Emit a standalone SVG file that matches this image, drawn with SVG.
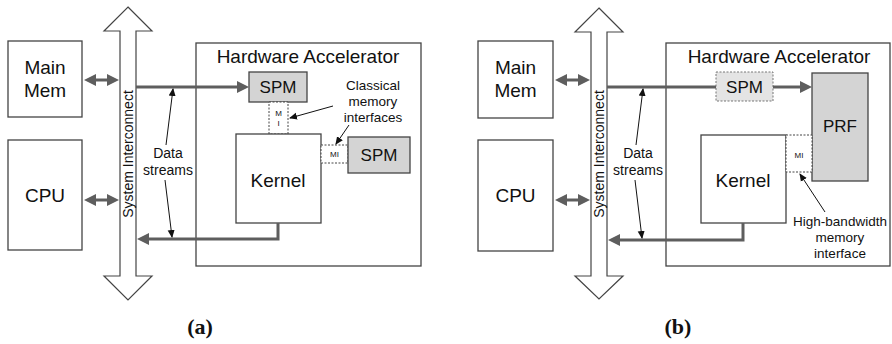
<svg xmlns="http://www.w3.org/2000/svg" width="892" height="344" viewBox="0 0 892 344">
<defs>
<style>
.box{fill:#fff;stroke:#444;stroke-width:1.3}
.gbox{fill:#d4d4d4;stroke:#444;stroke-width:1.3}
.dbox{fill:#fff;stroke:#444;stroke-width:1;stroke-dasharray:2 1.5}
.dgbox{fill:#e4e4e4;stroke:#777;stroke-width:1;stroke-dasharray:2 1.5}
.bus{fill:#fff;stroke:#444;stroke-width:1.2}
.t{font-family:"Liberation Sans",Arial,sans-serif;fill:#111;text-anchor:middle}
.big{font-size:19px}
.mid{font-size:17px}
.sm{font-size:14px}
.xs{font-size:13.5px}
.mi{font-size:8px}
.lab{font-family:"Liberation Serif","Times New Roman",serif;font-weight:bold;font-size:22px;fill:#111;text-anchor:middle}
.thick{fill:none;stroke:#5e5e5e;stroke-width:3}
.thin{fill:none;stroke:#111;stroke-width:1}
</style>
<marker id="ah" viewBox="0 0 12 12" markerWidth="12" markerHeight="12" markerUnits="userSpaceOnUse" refX="4" refY="6" orient="auto-start-reverse"><path d="M0,0 L12,6 L0,12 z" fill="#5e5e5e"/></marker>
<marker id="th" viewBox="0 0 8 8" markerWidth="8" markerHeight="8" markerUnits="userSpaceOnUse" refX="7" refY="4" orient="auto"><path d="M0,0.5 L8,4 L0,7.5 z" fill="#111"/></marker>
</defs>

<!-- Panel (a) -->
<g id="a-mainmem"><rect class="box" x="8" y="41" width="74" height="76"/><text class="t big" x="45" y="74">Main</text><text class="t big" x="45" y="97">Mem</text></g>
<g id="a-cpu"><rect class="box" x="8" y="140" width="74" height="110"/><text class="t big" x="45" y="202">CPU</text></g>
<g id="a-bus"><polygon class="bus" points="128,7 152,31 136,31 136,276 152,276 128,300 104,276 120,276 120,31 104,31"/><text class="t sm" transform="translate(133,154) rotate(-90)">System Interconnect</text></g>
<g id="a-hwacc"><rect class="box" x="196" y="43" width="225" height="223"/><text class="t big" x="308" y="63">Hardware Accelerator</text></g>
<g id="a-spm1"><rect class="gbox" x="249" y="72" width="58" height="30"/><text class="t mid" x="278" y="93">SPM</text></g>
<g id="a-mi1"><rect class="dbox" x="269" y="102" width="19" height="32"/><text class="t mi" x="278.5" y="116">M</text><text class="t mi" x="278.5" y="126">I</text></g>
<g id="a-kernel"><rect class="box" x="236" y="134" width="85" height="89"/><text class="t big" x="278" y="187">Kernel</text></g>
<g id="a-mi2"><rect class="dbox" x="321" y="145" width="27" height="18"/><text class="t mi" x="334.5" y="157">MI</text></g>
<g id="a-spm2"><rect class="gbox" x="348" y="137" width="62" height="36"/><text class="t mid" x="379" y="161">SPM</text></g>
<g id="a-ds"><text class="t sm" x="168" y="158">Data</text><text class="t sm" x="168" y="175">streams</text></g>
<g id="a-cmi"><text class="t xs" x="373" y="90">Classical</text><text class="t xs" x="373" y="106">memory</text><text class="t xs" x="373" y="122">interfaces</text></g>
<text class="lab" x="200" y="334">(a)</text>

<!-- Panel (b) -->
<g id="b-mainmem"><rect class="box" x="478" y="41" width="75" height="77"/><text class="t big" x="515.5" y="74">Main</text><text class="t big" x="515.5" y="97">Mem</text></g>
<g id="b-cpu"><rect class="box" x="478" y="140" width="75" height="111"/><text class="t big" x="515.5" y="202">CPU</text></g>
<g id="b-bus"><polygon class="bus" points="599,8 623,32 607,32 607,276 623,276 599,299 575,276 591,276 591,32 575,32"/><text class="t sm" transform="translate(604,154) rotate(-90)">System Interconnect</text></g>
<g id="b-hwacc"><rect class="box" x="666" y="43" width="224" height="223"/><text class="t big" x="779" y="63">Hardware Accelerator</text></g>
<g id="b-spm"><rect class="dgbox" x="716" y="72" width="57" height="29"/><text class="t mid" x="744.5" y="93">SPM</text></g>
<g id="b-prf"><rect class="gbox" x="812" y="73" width="56" height="108"/><text class="t mid" x="840" y="132">PRF</text></g>
<g id="b-kernel"><rect class="box" x="701" y="135" width="85" height="88"/><text class="t big" x="743" y="187">Kernel</text></g>
<g id="b-mi"><rect class="dbox" x="786" y="135" width="26" height="37"/><text class="t mi" x="799" y="158">MI</text></g>
<g id="b-ds"><text class="t sm" x="638" y="158">Data</text><text class="t sm" x="638" y="175">streams</text></g>
<g id="b-hbmi"><text class="t xs" x="840" y="226">High-bandwidth</text><text class="t xs" x="840" y="242">memory</text><text class="t xs" x="840" y="258">interface</text></g>
<text class="lab" x="678" y="334">(b)</text>

<!-- Connectors -->
<g id="connectors">
<line class="thick" x1="92" y1="80" x2="111" y2="80" marker-start="url(#ah)" marker-end="url(#ah)"/>
<line class="thick" x1="92" y1="200" x2="111" y2="200" marker-start="url(#ah)" marker-end="url(#ah)"/>
<line class="thick" x1="136" y1="87" x2="241" y2="87" marker-end="url(#ah)"/>
<polyline class="thick" points="278,223 278,239 145,239" marker-end="url(#ah)"/>
<line class="thin" x1="166" y1="145" x2="173" y2="89" marker-end="url(#th)"/>
<line class="thin" x1="165" y1="180" x2="172" y2="237" marker-end="url(#th)"/>
<line class="thin" x1="333" y1="106" x2="290" y2="118" marker-end="url(#th)"/>
<line class="thin" x1="349" y1="125" x2="336" y2="144" marker-end="url(#th)"/>

<line class="thick" x1="563" y1="80" x2="582" y2="80" marker-start="url(#ah)" marker-end="url(#ah)"/>
<line class="thick" x1="563" y1="200" x2="582" y2="200" marker-start="url(#ah)" marker-end="url(#ah)"/>
<line class="thick" x1="607" y1="87" x2="716" y2="87"/>
<line class="thick" x1="773" y1="87" x2="804" y2="87" marker-end="url(#ah)"/>
<polyline class="thick" points="743,223 743,240 616,240" marker-end="url(#ah)"/>
<line class="thin" x1="636" y1="145" x2="643" y2="89" marker-end="url(#th)"/>
<line class="thin" x1="635" y1="180" x2="642" y2="238" marker-end="url(#th)"/>
<line class="thin" x1="825" y1="212" x2="800" y2="174" marker-end="url(#th)"/>
</g>
</svg>
